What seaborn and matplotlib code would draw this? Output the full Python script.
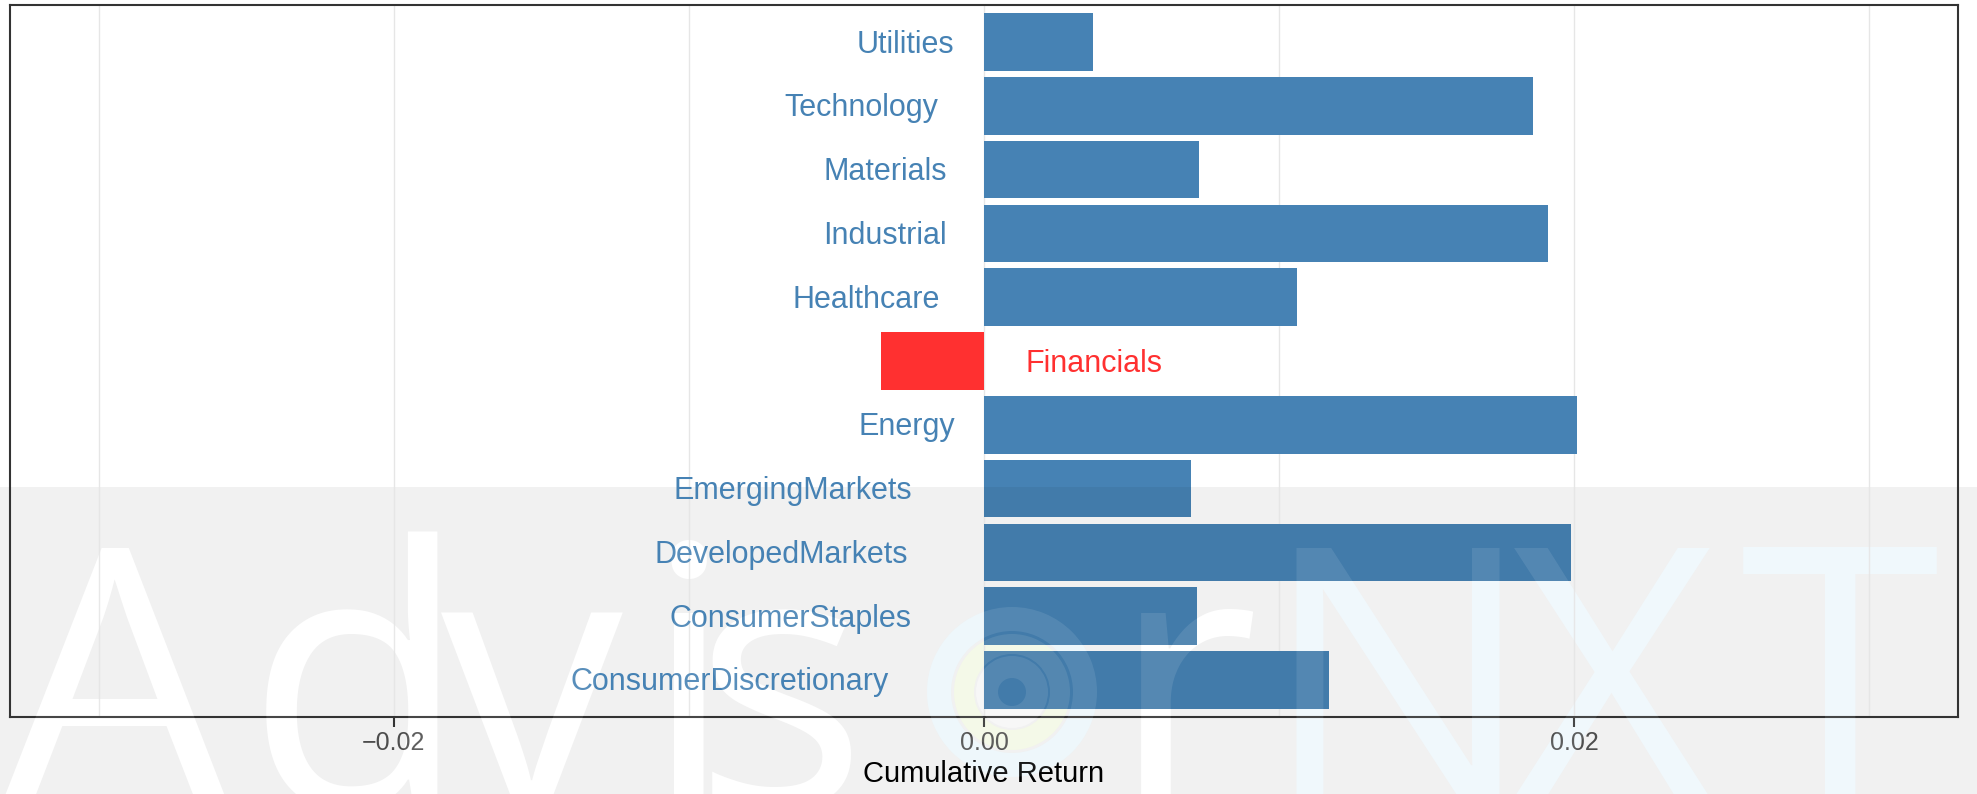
import numpy as np
import pandas as pd
import seaborn as sns
import matplotlib.pyplot as plt
from matplotlib.patches import Rectangle, Wedge
from matplotlib.transforms import ScaledTranslation, IdentityTransform

# Valores (retorno acumulado por setor), de cima para baixo
sectors = ['Utilities', 'Technology', 'Materials', 'Industrial', 'Healthcare',
           'Financials', 'Energy', 'EmergingMarkets', 'DevelopedMarkets',
           'ConsumerStaples', 'ConsumerDiscretionary']
returns = [0.0037, 0.0186, 0.0073, 0.0191, 0.0106,
           -0.0035, 0.0201, 0.0070, 0.0199, 0.0072, 0.0117]
x_ticks = [-0.02, 0.00, 0.02]
x_tick_labels = ['\u22120.02', '0.00', '0.02']

BLUE = '#4682B4'
BLUE_DARK = '#427BAA'
RED = '#FF3030'

W, H, DPI = 1977, 794, 100
BAND_TOP = 487  # topo da faixa cinza da marca d'água (pixels)

# letras da marca d'água "AdvisorNXT" (o "o" é o logo) e onde começam (pixels)
wm_letters = ['A', 'd', 'v', 'i', 's', 'r', 'N', 'X', 'T']
wm_left = [0, 246, 441, 643, 694, 1110, 1261, 1507, 1740]

df = pd.DataFrame({'Sector': sectors, 'Return': returns})
df['Sign'] = np.where(df['Return'] < 0, 'neg', 'pos')

sns.set_theme(style='white')
plt.rcParams['font.family'] = ['Liberation Sans', 'DejaVu Sans']

fig = plt.figure(figsize=(W / DPI, H / DPI), dpi=DPI)
fig.patch.set_facecolor('white')
renderer = fig.canvas.get_renderer()

# faixa cinza da marca d'água, atrás do gráfico
band = Rectangle((0, 0), 1, (H - BAND_TOP) / H, transform=fig.transFigure,
                 facecolor='#F1F1F1', edgecolor='none', zorder=-2)
fig.add_artist(band)


def draw_watermark(alpha, zorder):
    for ch, left in zip(wm_letters, wm_left):
        color = '#F0F8FC' if ch in 'NXT' else 'white'
        t = fig.text(0, 0, ch, fontsize=262, family=['Open Sans', 'DejaVu Sans'],
                     fontweight='normal', va='baseline', ha='left', color=color,
                     alpha=alpha, zorder=zorder, transform=IdentityTransform())
        ext = t.get_window_extent(renderer)
        t.set_position((left - ext.x0, -13))
    # logo no lugar do "o"
    rings = [(85, 24, '#EEF7FB'), (58, 20, '#F4F9E8'), (36, 22, '#F7F7F7')]
    for r, w, c in rings:
        fig.add_artist(Wedge((1012, H - 692), r, 0, 360, width=w, facecolor=c,
                             edgecolor='none', alpha=alpha, zorder=zorder,
                             transform=IdentityTransform()))


draw_watermark(1.0, -1)

ax = fig.add_axes([10 / W, 1 - 717 / H, (1958 - 10) / W, (717 - 5) / H])
ax.set_facecolor('none')

sns.barplot(data=df, x='Return', y='Sector', hue='Sign', order=sectors,
            palette={'pos': BLUE, 'neg': RED}, dodge=False, width=0.9,
            saturation=1, legend=False, linewidth=0, ax=ax)

# parte das barras dentro da faixa fica um pouco mais escura
clip = Rectangle((0, 0), 1, (H - BAND_TOP) / H, transform=fig.transFigure)
for p in list(ax.patches):
    if p.get_width() > 0:
        dark = Rectangle(p.get_xy(), p.get_width(), p.get_height(),
                         facecolor=BLUE_DARK, edgecolor='none', zorder=p.get_zorder())
        ax.add_patch(dark)
        dark.set_clip_path(clip)

ax.set_xlim(-0.033, 0.033)
ax.set_ylim(len(sectors) - 0.42, -0.58)
ax.set_xticks(x_ticks)
ax.set_xticklabels(x_tick_labels)
ax.set_xticks([-0.03, -0.01, 0.01, 0.03], minor=True)
ax.set_yticks([])
ax.set_ylabel('')
ax.set_xlabel('Cumulative Return', fontsize=21, color='black', labelpad=4)

ax.set_axisbelow(True)
ax.grid(True, axis='x', which='both', color='#E6E6E6', linewidth=1)
ax.grid(False, axis='y')
ax.tick_params(axis='x', which='major', length=7, width=1.5, color='#333333',
               labelsize=18, labelcolor='#4D4D4D', pad=3, bottom=True)
ax.tick_params(axis='x', which='minor', length=0)
for s in ax.spines.values():
    s.set_visible(True)
    s.set_color('#333333')
    s.set_linewidth(1.5)

# rótulos dos setores ao lado das barras (hjust 1.3 / -0.3)
labels = []
for i, (name, val) in enumerate(zip(sectors, returns)):
    color = RED if val < 0 else BLUE
    ha = 'left' if val < 0 else 'right'
    t = ax.text(0, i, name, ha=ha, va='center', fontsize=22, color=color)
    labels.append((t, val))

fig.canvas.draw()
for t, val in labels:
    w = t.get_window_extent(renderer).width
    shift = 0.3 * w / DPI * (1 if val < 0 else -1)
    t.set_transform(ax.transData + ScaledTranslation(shift, -2.5 / DPI, fig.dpi_scale_trans))

draw_watermark(0.10, 5)

fig.savefig('out.png', dpi=DPI)
